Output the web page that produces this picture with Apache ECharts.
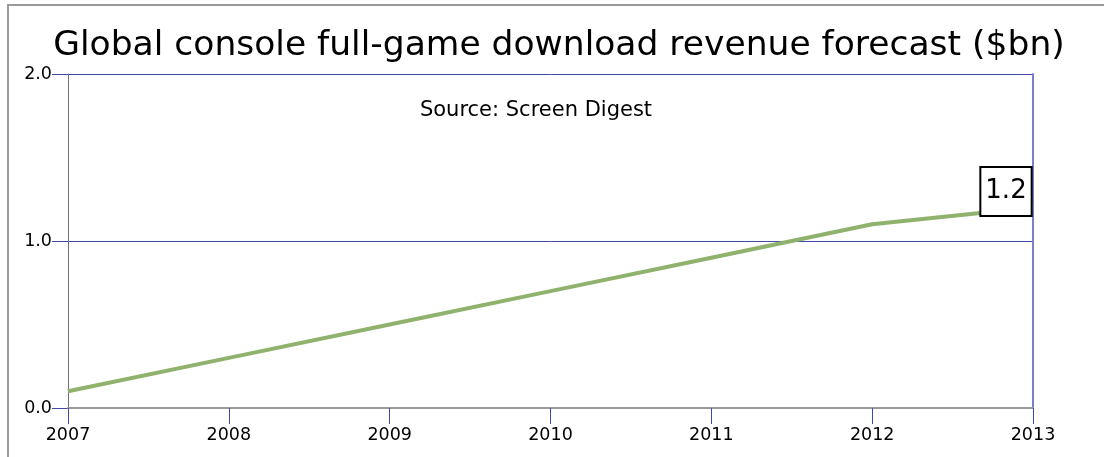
<!DOCTYPE html>
<html>
<head>
<meta charset="utf-8">
<script src="https://cdn.jsdelivr.net/npm/echarts@6/dist/echarts.min.js"></script>
<style>
html,body{margin:0;padding:0;background:#fff;}
#c{width:1104px;height:457px;}
</style>
</head>
<body>
<div id="c"></div>
<script>
const titleText = 'Global console full-game download revenue forecast ($bn)';
const sourceText = 'Source: Screen Digest';
const years = ['2007', '2008', '2009', '2010', '2011', '2012', '2013'];
const revenue = [0.1, 0.3, 0.5, 0.7, 0.9, 1.1, 1.2];
const yTicks = [0, 1, 2];

const FONT = 'DejaVu Sans';
const blue = '#4048a8';

const chart = echarts.init(document.getElementById('c'), null, {renderer: 'canvas'});

const seriesData = revenue.map((v, i) => {
  if (i === revenue.length - 1) {
    return {
      value: v,
      label: {
        show: true,
        position: 'inside',
        offset: [-27, -16],
        formatter: (p) => p.value.toFixed(1),
        fontFamily: FONT,
        fontSize: 26,
        color: '#000',
        backgroundColor: '#fff',
        borderColor: '#000',
        borderWidth: 2,
        lineHeight: 28,
        padding: [10, 4, 9, 4]
      }
    };
  }
  return v;
});

chart.setOption({
  animation: false,
  backgroundColor: '#fff',
  graphic: [{
    type: 'rect',
    shape: {x: 8, y: 5, width: 1200, height: 600},
    style: {fill: 'none', stroke: '#9a9a9a', lineWidth: 2},
    silent: true, z: -10
  }, {
    type: 'text',
    x: 559, y: 46,
    style: {text: titleText, font: '34.5px "DejaVu Sans"', fill: '#000', align: 'center', verticalAlign: 'middle'},
    silent: true
  }, {
    type: 'text',
    x: 536, y: 111,
    style: {text: sourceText, font: '21px "DejaVu Sans"', fill: '#000', align: 'center', verticalAlign: 'middle'},
    silent: true
  }],
  grid: {left: 68, right: 71, top: 74, bottom: 49, containLabel: false},
  xAxis: {
    type: 'category',
    data: years,
    boundaryGap: false,
    axisLine: {show: true, lineStyle: {color: '#999', width: 2}},
    axisTick: {show: true, length: 16, lineStyle: {color: blue, width: 1}},
    axisLabel: {fontFamily: FONT, fontSize: 17.5, color: '#000', margin: 18, showMinLabel: true, showMaxLabel: true},
    splitLine: {show: false},
    z: 5
  },
  yAxis: [{
    type: 'value',
    min: 0, max: 2, interval: 1,
    axisLine: {show: true, lineStyle: {color: '#707070', width: 1}},
    axisTick: {show: true, length: 16, lineStyle: {color: blue}},
    axisLabel: {fontFamily: FONT, fontSize: 17.5, color: '#000', margin: 16,
      formatter: (v) => yTicks.includes(v) ? v.toFixed(1) : ''},
    splitLine: {show: true, lineStyle: {color: blue, width: 1}}
  }, {
    type: 'value',
    position: 'right',
    min: 0, max: 2, interval: 1,
    axisLine: {show: true, lineStyle: {color: '#7c80c8', width: 2}},
    axisTick: {show: false},
    axisLabel: {show: false},
    splitLine: {show: false}
  }],
  series: [{
    type: 'line',
    data: seriesData,
    yAxisIndex: 0,
    showSymbol: true,
    symbol: 'circle',
    symbolSize: 0,
    itemStyle: {color: '#8fb26d'},
    lineStyle: {color: '#8fb26d', width: 4},
    z: 3
  }]
});
</script>
</body>
</html>
